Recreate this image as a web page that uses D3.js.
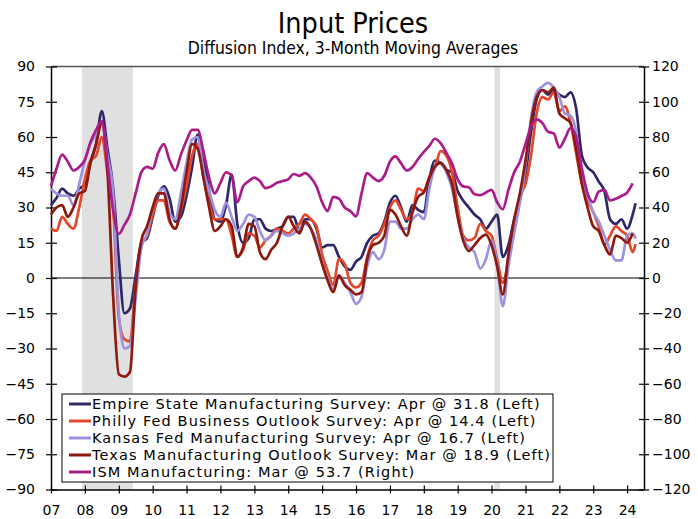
<!DOCTYPE html>
<meta charset="utf-8">
<style>
body { margin: 0; background: #fff; }
svg text { font-family: "DejaVu Sans", Verdana, sans-serif; fill: #000; }
.title { font-family: "DejaVu Sans Condensed", "DejaVu Sans", sans-serif; font-stretch: condensed; }
.line { fill: none; stroke-width: 2.7px; stroke-linejoin: round; }
</style>
<body>
<script src="https://cdnjs.cloudflare.com/ajax/libs/d3/7.8.5/d3.min.js"></script>
<script>

// every other month, Jan 2007 .. Mar 2024, plus Apr 2024 for the series that run one month longer
var months = d3.timeMonth.every(2).range(new Date(2007, 0, 1), new Date(2024, 3, 1));
months.push(new Date(2024, 3, 1));

var empire = [
  31, 34, 38, 36, 35, 38,   40, 49, 57, 71, 55, 38,   8, -15, -13, 1, 15, 17,
  26, 35, 39, 34, 24, 26,   35, 47, 61, 52, 37, 25,   24, 31, 44, 23, 15, 17,
  25, 25, 21, 20, 21, 22,   26, 26, 20, 25, 25, 21,   13, 14, 14, 9, 5, 3.5,
  7, 9, 15, 18, 19, 24,     32, 35, 30, 24, 31, 29,   28, 42, 50, 49, 46, 45,
  37, 33, 30, 27, 25, 21,   24, 27, 9, 14, 25, 33,    44, 62, 76, 80, 78, 80,
  78, 77, 79, 72, 52, 47,   45, 41, 37, 25, 23, 25,   21, 27, 31.8];

var philly = [
  21, 20, 26, 23, 21, 30,   42, 50, 52, 60, 45, 30,   -17, -26, -27, -3, 14, 18,
  27, 33, 33, 24, 21, 29,   39, 52, 57, 43, 32, 25,   25, 25, 18, 9, 12, 19,
  18, 13, 16, 18, 21, 20,   19, 21, 23, 27, 25, 22,   10, 3, -3, 8, 6, -2,
  -4, -2, 9, 16, 18, 23,    30, 33, 29, 25, 28, 38,   37, 43, 47, 54, 52, 45,
  30, 18, 16, 17, 23, 20,   18, 8, -2, 8, 23, 35,     40, 52, 70, 77, 76, 79,
  71, 73, 66, 53, 40, 33,   28, 22, 14, 18, 22, 20,   18, 11, 14.4];

var kansas = [
  38, 36, 35, 35, 31, 40,   50, 57, 61, 66, 52, 36,   -15, -30, -29, -9, 13, 19,
  30, 36, 38, 28, 25, 36,   49, 59, 60, 46, 37, 29,   26, 32, 26, 20, 23, 27,
  26, 20, 16, 18, 20, 19,   18, 19, 21, 23, 21, 16,   6, 0, -5, 1, -2, -6,
  -11, -8, 5, 11, 8, 12,    24, 24, 21, 21, 25, 27,   25, 38, 47, 49, 45, 38,
  26, 17, 13, 11, 4, 8,     16, 6, -12, 5, 19, 32,    48, 68, 79, 81.5, 83, 81,
  77, 70, 69, 62, 42, 35,   28, 24, 18, 12, 7.5, 7.5, 18, 19, 16.7];

var texas = [
  27, 30, 31, 26, 30, 36,   37, 49, 57, 66, 45, -8,   -41, -42, -40, -4, 16, 22,
  30, 36, 36, 25, 21, 30,   45, 57, 55, 43, 30, 20,   22, 25, 22, 9, 13, 23,
  22, 11, 8, 12, 15, 22,    26, 22, 19, 24, 21, 14,   6, -1, -6, 1, -3, -5,
  -7, -6, 8, 14, 15, 18,    29, 27, 22, 18, 28, 34.5, 36.5, 42.5, 47.5, 49, 46, 40,
  26, 16, 11.5, 14, 17, 18.5, 14, 5, -7, 10, 25, 36, 50, 66, 77, 80, 79, 81,
  70, 68, 66, 55, 40, 30,   22, 20, 14, 10, 18, 17,   15, 18.9];

// right axis
var ism = [
  52, 62, 70, 66, 61, 63,   67, 77, 84, 89, 65, 38,   25, 30, 36, 48, 60, 63,
  62, 71, 76, 67, 61, 70,   78, 84, 84, 72, 57, 48,   54, 60, 58, 43, 52, 55,
  57, 55, 51, 52, 54, 55,   56, 59, 58, 59.5, 57, 52, 43, 38, 46, 45, 40, 38,
  35, 48, 59.5, 57, 55, 58, 66, 69, 65, 61, 63, 67.5, 71.5, 75, 79, 76.5, 71, 65,
  56, 52, 51.5, 47.5, 47, 48.5, 50, 43, 39, 50, 60, 66, 76, 86, 90, 88, 83, 82,
  74, 79, 85, 80, 62, 48,   43, 49, 50, 44, 45, 46.5, 48.5, 53.7];

var recessions = [
  [new Date(2007, 11, 1), new Date(2009, 5, 1)],
  [new Date(2020, 1, 1), new Date(2020, 3, 1)]
];

var legendLabels = [
  "Empire State Manufacturing Survey: Apr @ 31.8 (Left)",
  "Philly Fed Business Outlook Survey: Apr @ 14.4 (Left)",
  "Kansas Fed Manufacturing Survey: Apr @ 16.7 (Left)",
  "Texas Manufacturing Outlook Survey: Mar @ 18.9 (Left)",
  "ISM Manufacturing: Mar @ 53.7 (Right)"
];
var colors = ["#2f2868", "#e4482a", "#9d92df", "#8c1a10", "#ab1c8a"];

var yearTicks = d3.range(2007, 2025).map(function(y) { return new Date(y, 0, 1); });

var width = 698, height = 519;
var plotLeft = 51, plotRight = 644, plotTop = 66.5, plotBottom = 489.5;

var svg = d3.select("body").append("svg")
    .attr("width", width)
    .attr("height", height);

var x = d3.scaleTime()
    .domain([new Date(2007, 0, 1), new Date(2024, 6, 1)])
    .range([plotLeft, plotRight]);

var yL = d3.scaleLinear().domain([-90, 90]).range([plotBottom, plotTop]);
var yR = d3.scaleLinear().domain([-120, 120]).range([plotBottom, plotTop]);

// recession shading
svg.append("g").selectAll("rect")
    .data(recessions)
  .enter().append("rect")
    .attr("x", function(d) { return x(d[0]); })
    .attr("width", function(d) { return x(d[1]) - x(d[0]); })
    .attr("y", plotTop)
    .attr("height", plotBottom - plotTop)
    .attr("fill", "#e0e0e0");

// top border and zero line
svg.append("line")
    .attr("x1", plotLeft).attr("x2", plotRight)
    .attr("y1", plotTop).attr("y2", plotTop)
    .attr("stroke", "#555").attr("stroke-width", 1.5);

svg.append("line")
    .attr("x1", plotLeft).attr("x2", plotRight)
    .attr("y1", yL(0)).attr("y2", yL(0))
    .attr("stroke", "#000").attr("stroke-width", 1.2);

// axes
var axL = svg.append("g")
    .attr("transform", "translate(" + plotLeft + ",0)")
    .call(d3.axisLeft(yL).tickValues(d3.range(-90, 91, 15)).tickSizeInner(5).tickSizeOuter(0).tickPadding(11));
axL.selectAll(".tick line").attr("x1", 6).attr("x2", -5);

var axR = svg.append("g")
    .attr("transform", "translate(" + plotRight + ",0)")
    .call(d3.axisRight(yR).tickValues(d3.range(-120, 121, 20)).tickSizeInner(5).tickSizeOuter(0).tickPadding(3));
axR.selectAll(".tick line").attr("x1", -5).attr("x2", 5);

var axB = svg.append("g")
    .attr("transform", "translate(0," + plotBottom + ")")
    .call(d3.axisBottom(x).tickValues(yearTicks).tickFormat(d3.timeFormat("%y")).tickSizeInner(4).tickSizeOuter(0).tickPadding(12));
axB.selectAll(".tick line").attr("y1", -4).attr("y2", 4);

svg.selectAll(".domain").attr("stroke", "#000").attr("stroke-width", 1.5);
svg.selectAll(".tick line").attr("stroke", "#000").attr("stroke-width", 1.2);
svg.selectAll(".tick text").style("font-size", "14px").attr("fill", "#000");

// lines
var lineL = d3.line()
    .curve(d3.curveMonotoneX)
    .x(function(d, i) { return x(months[i]); })
    .y(function(d) { return yL(d); });

var lineR = d3.line()
    .curve(d3.curveMonotoneX)
    .x(function(d, i) { return x(months[i]); })
    .y(function(d) { return yR(d); });

var series = [empire, philly, kansas, texas];
svg.append("g").selectAll("path")
    .data(series)
  .enter().append("path")
    .attr("class", "line")
    .attr("stroke", function(d, i) { return colors[i]; })
    .attr("d", lineL);

svg.append("path")
    .datum(ism)
    .attr("class", "line")
    .attr("stroke", colors[4])
    .attr("d", lineR);

// legend
var legend = svg.append("g");
legend.append("rect")
    .attr("x", 62).attr("y", 394)
    .attr("width", 491).attr("height", 88)
    .attr("fill", "#fff").attr("stroke", "#000").attr("stroke-width", 1);

var item = legend.selectAll(".item")
    .data(legendLabels)
  .enter().append("g")
    .attr("transform", function(d, i) { return "translate(0," + (404 + i * 17) + ")"; });

item.append("line")
    .attr("x1", 69).attr("x2", 91)
    .attr("stroke", function(d, i) { return colors[i]; })
    .attr("stroke-width", 3);

item.append("text")
    .attr("x", 92)
    .attr("dy", "0.36em")
    .style("font-size", "14.5px")
    .style("letter-spacing", "1.1px")
    .text(function(d) { return d; });

// titles
svg.append("text")
    .attr("class", "title")
    .attr("x", 353).attr("y", 33)
    .attr("text-anchor", "middle")
    .style("font-size", "28.5px")
    .text("Input Prices");

svg.append("text")
    .attr("class", "title")
    .attr("x", 353).attr("y", 54)
    .attr("text-anchor", "middle")
    .style("font-size", "17.4px")
    .text("Diffusion Index, 3-Month Moving Averages");

</script>
